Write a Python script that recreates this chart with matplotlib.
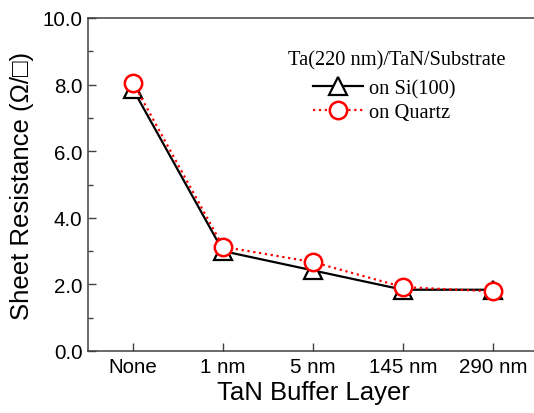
import matplotlib.pyplot as plt

layers = ["None", "1 nm", "5 nm", "145 nm", "290 nm"]
si_res = [7.86, 3.0, 2.42, 1.84, 1.84]
quartz_res = [8.06, 3.13, 2.67, 1.92, 1.79]

sans = ["Liberation Sans", "DejaVu Sans"]
serif = ["Liberation Serif", "DejaVu Serif"]

fig = plt.figure(figsize=(5.34, 4.14), dpi=100)
ax = fig.add_axes([88 / 534, 62 / 414, 450 / 534, 333 / 414])

x = list(range(len(layers)))
ax.plot(x, si_res, color="black", lw=1.6, marker="^", ms=13.5,
        mfc="white", mec="black", mew=1.6, label="on Si(100)")
ax.plot(x, quartz_res, color="red", lw=1.6, ls=":", marker="o", ms=12.5,
        mfc="white", mec="red", mew=1.8, label="on Quartz")

ax.set_xlim(-0.5, 4.5)
ax.set_ylim(0, 10)
ax.set_xticks(x)
ax.set_xticklabels(layers, family=sans, fontsize=14.8)
ax.set_yticks([0, 2, 4, 6, 8, 10])
ax.set_yticks([1, 3, 5, 7, 9], minor=True)
ax.set_yticklabels([f"{v:.1f}" for v in [0, 2, 4, 6, 8, 10]], family=sans, fontsize=14.8)
ax.tick_params(axis="both", which="major", direction="in", length=5.5, width=1, color="#404040", pad=4)
ax.tick_params(axis="y", which="minor", direction="in", length=3.5, width=1, color="#404040")
for s in ax.spines.values():
    s.set_color("#404040")
    s.set_linewidth(1.1)

ax.set_xlabel("TaN Buffer Layer", family=sans, fontsize=18.5, labelpad=3)
ax.set_ylabel("Sheet Resistance (\u03a9/\u25a1)", family=sans, fontsize=18.5, labelpad=6)

fig.text(288 / 534, (414 - 61) / 414, "Ta(220 nm)/TaN/Substrate", family=serif,
         fontsize=14.7, va="center", ha="left")
ax.legend(loc="upper left", bbox_to_anchor=(313 / 534, (414 - 80) / 414),
          bbox_transform=fig.transFigure, frameon=False, borderpad=0,
          borderaxespad=0, handlelength=2.45, handletextpad=0.3,
          labelspacing=0.2, prop={"family": serif, "size": 14.7})

fig.savefig("out.png", dpi=100)
